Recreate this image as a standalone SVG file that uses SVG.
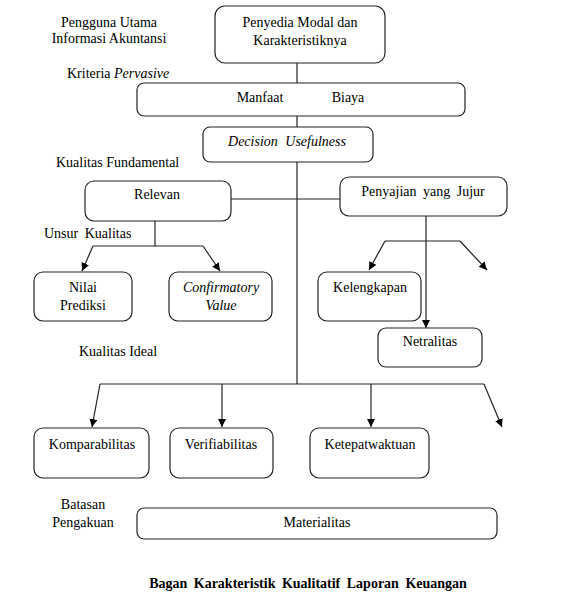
<svg xmlns="http://www.w3.org/2000/svg" width="577" height="599" viewBox="0 0 577 599" font-family="Liberation Serif, serif">
<style>
text{font-family:'Liberation Serif',serif;font-size:14px;fill:#000}
.c{text-anchor:middle}
.i{font-style:italic}
.box{fill:#fff;stroke:#222;stroke-width:1.2}
.ln{fill:none;stroke:#222;stroke-width:1.2}
.ar{fill:none;stroke:#222;stroke-width:1.2;marker-end:url(#ah)}
.t{font-weight:bold;font-size:14px}
</style>
<defs>
<marker id="ah" markerUnits="userSpaceOnUse" markerWidth="9" markerHeight="9" refX="8" refY="4" orient="auto">
<path d="M0,0 L8,4 L0,8 z" fill="#000"/>
</marker>
</defs>
<rect width="577" height="599" fill="#fff"/>
<g id="connectors">
<line class="ln" x1="297" y1="63" x2="297" y2="83"/>
<line class="ln" x1="297" y1="116" x2="297" y2="127"/>
<line class="ln" x1="297" y1="162" x2="297" y2="384"/>
<line class="ln" x1="231" y1="199" x2="340" y2="199"/>
<polyline class="ln" points="155,221 155,246"/>
<line class="ln" x1="93" y1="246" x2="203" y2="246"/>
<line class="ar" x1="93" y1="246" x2="82" y2="271"/>
<line class="ar" x1="203" y1="246" x2="220" y2="271"/>
<line class="ar" x1="426" y1="216" x2="426" y2="328"/>
<line class="ln" x1="385" y1="241" x2="460" y2="241"/>
<line class="ar" x1="385" y1="241" x2="369" y2="270"/>
<line class="ar" x1="460" y1="241" x2="487" y2="270"/>
<line class="ln" x1="100" y1="384" x2="484" y2="384"/>
<line class="ar" x1="100" y1="384" x2="92" y2="427"/>
<line class="ar" x1="222" y1="384" x2="222" y2="427"/>
<line class="ar" x1="371" y1="384" x2="371" y2="427"/>
<line class="ar" x1="484" y1="384" x2="502" y2="427"/>
</g>
<g id="labels">
<text class="c" x="109" y="27">Pengguna Utama</text>
<text class="c" x="109" y="43">Informasi Akuntansi</text>
<text x="67" y="78">Kriteria <tspan class="i">Pervasive</tspan></text>
<text x="56" y="167">Kualitas Fundamental</text>
<text x="44" y="238" word-spacing="3">Unsur Kualitas</text>
<text x="79" y="356">Kualitas Ideal</text>
<text class="c" x="83" y="509">Batasan</text>
<text class="c" x="83" y="527">Pengakuan</text>
</g>
<g id="n-penyedia">
<rect class="box" x="215" y="6" width="170" height="57" rx="10"/>
<text class="c" x="300" y="27">Penyedia Modal dan</text>
<text class="c" x="300" y="45">Karakteristiknya</text>
</g>
<g id="n-manfaat">
<rect class="box" x="137" y="83" width="328" height="33" rx="7"/>
<text class="c" x="260" y="102">Manfaat</text>
<text class="c" x="348" y="102">Biaya</text>
</g>
<g id="n-decision">
<rect class="box" x="203" y="127" width="170" height="35" rx="7"/>
<text class="c i" x="287" y="146" word-spacing="4">Decision Usefulness</text>
</g>
<g id="n-relevan">
<rect class="box" x="85" y="181" width="146" height="40" rx="9"/>
<text class="c" x="157" y="199">Relevan</text>
</g>
<g id="n-penyajian">
<rect class="box" x="340" y="177" width="167" height="39" rx="9"/>
<text class="c" x="423" y="196" word-spacing="3">Penyajian yang Jujur</text>
</g>
<g id="n-nilai">
<rect class="box" x="34" y="272" width="98" height="49" rx="9"/>
<text class="c" x="83" y="292">Nilai</text>
<text class="c" x="83" y="310">Prediksi</text>
</g>
<g id="n-confirmatory">
<rect class="box" x="169" y="272" width="103" height="49" rx="9"/>
<text class="c i" x="221" y="292">Confirmatory</text>
<text class="c i" x="221" y="310">Value</text>
</g>
<g id="n-kelengkapan">
<rect class="box" x="318" y="272" width="103" height="49" rx="9"/>
<text class="c" x="370" y="292">Kelengkapan</text>
</g>
<g id="n-netralitas">
<rect class="box" x="378" y="328" width="104" height="39" rx="8"/>
<text class="c" x="430" y="346">Netralitas</text>
</g>
<g id="n-komparabilitas">
<rect class="box" x="34" y="428" width="115" height="50" rx="9"/>
<text class="c" x="92" y="449">Komparabilitas</text>
</g>
<g id="n-verifiabilitas">
<rect class="box" x="170" y="428" width="103" height="50" rx="9"/>
<text class="c" x="221" y="449">Verifiabilitas</text>
</g>
<g id="n-ketepatwaktuan">
<rect class="box" x="310" y="428" width="119" height="50" rx="9"/>
<text class="c" x="370" y="449">Ketepatwaktuan</text>
</g>
<g id="n-materialitas">
<rect class="box" x="137" y="508" width="360" height="31" rx="7"/>
<text class="c" x="317" y="527">Materialitas</text>
</g>
<g id="title">
<text class="c t" x="308" y="588" word-spacing="3">Bagan Karakteristik Kualitatif Laporan Keuangan</text>
</g>
</svg>
